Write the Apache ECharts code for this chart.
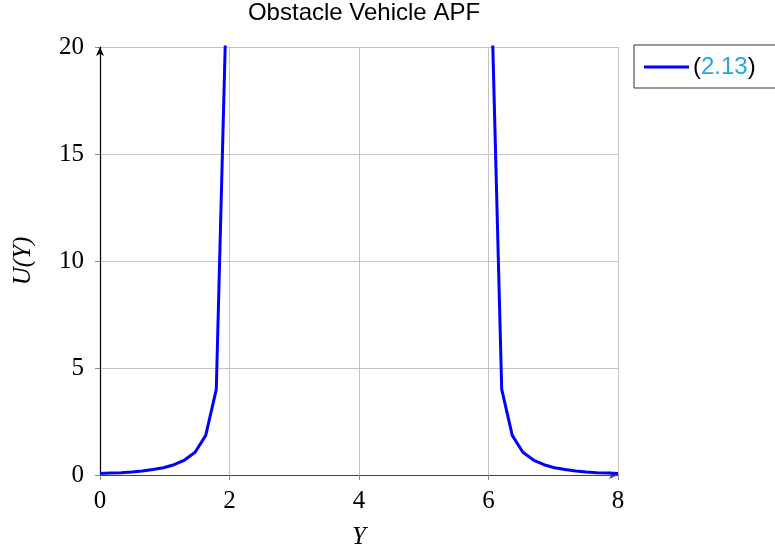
<!DOCTYPE html>
<html>
<head>
<meta charset="utf-8">
<script src="https://cdn.jsdelivr.net/npm/echarts@6/dist/echarts.min.js"></script>
<style>
  html, body { margin: 0; padding: 0; background: #fff; }
  #chart { width: 775px; height: 553px; }
</style>
</head>
<body>
<div id="chart"></div>
<script>
// Sample positions Y (50 evenly spaced points on [0, 8])
const yPositions = [
  0.000, 0.163, 0.327, 0.490, 0.653, 0.816, 0.980, 1.143, 1.306, 1.469,
  1.633, 1.796, 1.959, 2.122, 2.286, 2.449, 2.612, 2.776, 2.939, 3.102,
  3.265, 3.429, 3.592, 3.755, 3.918, 4.082, 4.245, 4.408, 4.571, 4.735,
  4.898, 5.061, 5.224, 5.388, 5.551, 5.714, 5.878, 6.041, 6.204, 6.367,
  6.531, 6.694, 6.857, 7.020, 7.184, 7.347, 7.510, 7.673, 7.837, 8.000
];
// Potential U(Y); samples between the two obstacles lie off the top of the plot
const potential = [
  0.07, 0.09, 0.11, 0.14, 0.19, 0.26, 0.34, 0.48, 0.70, 1.06,
  1.85, 4.00, 23.0, null, null, null, null, null, null, null,
  null, null, null, null, null, null, null, null, null, null,
  null, null, null, null, null, null, null, 23.0, 4.00, 1.85,
  1.06, 0.70, 0.48, 0.34, 0.26, 0.19, 0.14, 0.11, 0.09, 0.07
];
const xTicks = [0, 2, 4, 6, 8];
const yTicks = [0, 5, 10, 15, 20];
const seriesName = '(2.13)';

const points = yPositions.map((x, i) => [x, potential[i]]);

const chart = echarts.init(document.getElementById('chart'), null, { renderer: 'canvas' });

const serif = 'Liberation Serif';
const sans = 'Liberation Sans';
const gridColor = '#c4c4c4';

chart.setOption({
  animation: false,
  backgroundColor: '#ffffff',
  title: {
    text: 'Obstacle Vehicle APF',
    left: 359,
    textAlign: 'center',
    top: -4,
    textStyle: { fontFamily: sans, fontSize: 24, fontWeight: 'normal', color: '#000' }
  },
  legend: {
    left: 634,
    top: 45,
    orient: 'vertical',
    padding: [10, 100, 9, 10],
    borderColor: '#333',
    borderWidth: 1,
    borderRadius: 0,
    icon: 'rect',
    itemWidth: 45,
    itemHeight: 3,
    itemGap: 0,
    formatter: () => '{p|(}{n|2.13}{p|)}',
    textStyle: {
      fontFamily: sans,
      fontSize: 24,
      padding: [0, 0, 0, -1],
      rich: {
        p: { fontFamily: sans, fontSize: 24, color: '#000' },
        n: { fontFamily: sans, fontSize: 24, color: '#22a7e4' }
      }
    },
    data: [{ name: seriesName, itemStyle: { color: '#0000ff' } }]
  },
  grid: {
    left: 100, right: 157, top: 47, bottom: 78,
    containLabel: false,
    outerBoundsMode: 'none'
  },
  xAxis: {
    type: 'value',
    min: xTicks[0],
    max: xTicks[xTicks.length - 1],
    interval: 2,
    name: 'Y',
    nameLocation: 'middle',
    nameGap: 50,
    nameTextStyle: { fontFamily: serif, fontStyle: 'italic', fontSize: 25, color: '#000' },
    axisLine: {
      show: true,
      onZero: false,
      symbol: ['none', 'arrow'],
      symbolSize: [6, 9],
      lineStyle: { color: '#444', width: 1.2 }
    },
    axisTick: { show: true, length: 5, lineStyle: { color: '#888' } },
    axisLabel: {
      fontFamily: serif, fontSize: 25, color: '#000', margin: 14,
      formatter: v => (xTicks.includes(v) ? String(v) : '')
    },
    splitLine: { show: true, lineStyle: { color: gridColor, width: 1 } }
  },
  yAxis: {
    type: 'value',
    min: yTicks[0],
    max: yTicks[yTicks.length - 1],
    interval: 5,
    name: 'U(Y)',
    nameLocation: 'middle',
    nameGap: 64,
    nameRotate: 90,
    nameTextStyle: { fontFamily: serif, fontStyle: 'italic', fontSize: 25, color: '#000' },
    axisLine: {
      show: true,
      onZero: false,
      symbol: ['none', 'arrow'],
      symbolSize: [6, 9],
      lineStyle: { color: '#000', width: 1.2 }
    },
    axisTick: { show: true, length: 5, lineStyle: { color: '#888' } },
    axisLabel: {
      fontFamily: serif, fontSize: 25, color: '#000', margin: 16,
      formatter: v => (yTicks.includes(v) ? String(v) : '')
    },
    splitLine: { show: true, lineStyle: { color: gridColor, width: 1 } }
  },
  series: [{
    name: seriesName,
    type: 'line',
    data: points,
    showSymbol: false,
    symbol: 'none',
    clip: true,
    connectNulls: false,
    lineStyle: { color: '#0000ff', width: 3 },
    itemStyle: { color: '#0000ff' }
  }]
});
</script>
</body>
</html>
